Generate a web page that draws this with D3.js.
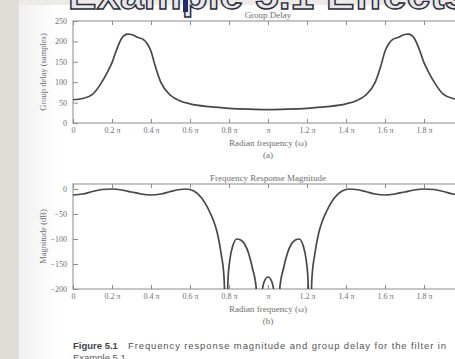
<!DOCTYPE html>
<html>
<head>
<meta charset="utf-8">
<script src="https://cdn.jsdelivr.net/npm/d3@7"></script>
<style>
  html, body { margin: 0; padding: 0; background: #fff; }
  svg { display: block; }
</style>
</head>
<body>
<svg id="chart" width="455" height="359"></svg>
<script>
// ── Data ────────────────────────────────────────────────────────────────────

// x positions are in units of pi; 2π sits just past the right edge of the scan
const xTicks = [0, 0.2, 0.4, 0.6, 0.8, 1.0, 1.2, 1.4, 1.6, 1.8, 2.0];
const xTickLabels = ["0", "0.2 π", "0.4 π", "0.6 π", "0.8 π", "π", "1.2 π", "1.4 π", "1.6 π", "1.8 π", ""];

const delayTicks = [0, 50, 100, 150, 200, 250];
const magTicks = [0, -50, -100, -150, -200];

// (a) group delay, samples
const delayFreq = [0, 0.05, 0.1, 0.15, 0.18, 0.2, 0.22, 0.25, 0.28, 0.3, 0.33, 0.36, 0.38, 0.4, 0.42, 0.45,
  0.5, 0.55, 0.6, 0.7, 0.8, 0.9, 1.0, 1.1, 1.2, 1.3, 1.4, 1.45, 1.5, 1.55, 1.58, 1.6, 1.62, 1.64, 1.67,
  1.7, 1.72, 1.75, 1.78, 1.8, 1.82, 1.85, 1.9, 1.95, 2.0];
const delayValues = [57, 60, 70, 102, 128, 148, 175, 208, 218, 217, 210, 205, 195, 176, 142, 100,
  68, 54, 47, 40, 36, 34, 33, 34, 36, 40, 47, 54, 68, 100, 142, 176, 195, 205, 210,
  217, 218, 208, 175, 148, 128, 102, 70, 60, 57];

// (b) magnitude, dB (nulls run far below the -200 floor and get clipped)
const magFreq = [0, 0.05, 0.1, 0.15, 0.2, 0.25, 0.3, 0.35, 0.4, 0.45, 0.5, 0.55, 0.58, 0.62, 0.66, 0.7,
  0.72, 0.74, 0.76, 0.775, 0.785, 0.795, 0.805, 0.82, 0.84, 0.86, 0.88, 0.9, 0.92, 0.94, 0.955,
  0.97, 0.98, 1.0, 1.02, 1.03, 1.045, 1.06, 1.08, 1.1, 1.12, 1.14, 1.16, 1.18, 1.195, 1.205, 1.215,
  1.225, 1.24, 1.26, 1.28, 1.3, 1.34, 1.38, 1.42, 1.45, 1.5, 1.55, 1.6, 1.65, 1.7, 1.75, 1.8, 1.85,
  1.9, 1.95, 2.0];
const magValues = [-12, -10, -5, -1, 0, -2, -6, -10, -12, -10, -5, -1, 0, -4, -18, -45,
  -63, -88, -130, -180, -300, -180, -140, -113, -100, -102, -110, -128, -158, -200, -300,
  -205, -186, -176, -186, -205, -300, -200, -158, -128, -110, -102, -100, -113, -140, -180, -300,
  -180, -130, -88, -63, -45, -18, -4, 0, -1, -5, -10, -12, -10, -6, -2, 0, -1,
  -5, -10, -12];

// ── Setup ───────────────────────────────────────────────────────────────────

const svg = d3.select("#chart");
const SERIF = "'Liberation Serif', 'DejaVu Serif', serif";
const SANS = "'Liberation Sans', Arial, sans-serif";
const LINE = "#474747";
const AXIS = "#8c8c8c";
const TEXT = "#6e6e6e";

// slide background: grey strip on the left, page in white
const defs = svg.append("defs");
const grad = defs.append("linearGradient").attr("id", "page-edge").attr("x1", 0).attr("x2", 1);
grad.append("stop").attr("offset", 0).attr("stop-color", "#f0f0f0");
grad.append("stop").attr("offset", 1).attr("stop-color", "#ffffff");

svg.append("rect").attr("width", 455).attr("height", 359).attr("fill", "#ecebe7");
svg.append("rect").attr("x", 0).attr("y", 0).attr("width", 19).attr("height", 359).attr("fill", "#dfddd6");
svg.append("rect").attr("x", 19).attr("y", 5).attr("width", 436).attr("height", 354).attr("fill", "#fff");
svg.append("rect").attr("x", 19).attr("y", 5).attr("width", 40).attr("height", 354).attr("fill", "url(#page-edge)");

// slide title, mostly cut off at the top
svg.append("text")
  .attr("x", 68).attr("y", 9)
  .attr("textLength", 400).attr("lengthAdjust", "spacingAndGlyphs")
  .style("font-family", SANS).style("font-weight", "bold").style("font-size", "40px")
  .attr("fill", "#e6e6ea").attr("stroke", "#2c2c3c").attr("stroke-width", 1.4)
  .text("Example 5.1 Effects");
svg.append("rect").attr("x", 183).attr("y", 0).attr("width", 5).attr("height", 12).attr("fill", "#1f2f6e");

const x = d3.scaleLinear().domain([0, 2]).range([73, 463]);

// ── Panels ──────────────────────────────────────────────────────────────────

drawPanel({
  id: "a",
  y: d3.scaleLinear().domain([0, 250]).range([123, 21]),
  yTicks: delayTicks,
  title: "Group Delay",
  yLabel: "Group delay (samples)",
  sub: "(a)",
  freq: delayFreq,
  values: delayValues,
});

drawPanel({
  id: "b",
  y: d3.scaleLinear().domain([-200, 10]).range([289, 184]),
  yTicks: magTicks,
  title: "Frequency Response Magnitude",
  yLabel: "Magnitude (dB)",
  sub: "(b)",
  freq: magFreq,
  values: magValues,
});

// caption
svg.append("text")
  .attr("x", 73).attr("y", 349)
  .style("font-family", SANS).style("font-size", "9.5px").style("font-weight", "bold")
  .attr("fill", "#444")
  .text("Figure 5.1");
svg.append("text")
  .attr("x", 128).attr("y", 349)
  .attr("textLength", 318).attr("lengthAdjust", "spacing")
  .style("font-family", SANS).style("font-size", "9.5px").attr("fill", "#555")
  .text("Frequency response magnitude and group delay for the filter in");
svg.append("text")
  .attr("x", 73).attr("y", 361)
  .style("font-family", SANS).style("font-size", "9.5px").attr("fill", "#555")
  .text("Example 5.1");

// ── Helpers ─────────────────────────────────────────────────────────────────

function drawPanel(p) {
  const [y0, y1] = p.y.range();
  const [x0, x1] = x.range();
  const g = svg.append("g");

  defs.append("clipPath").attr("id", "clip-" + p.id)
    .append("rect").attr("x", x0).attr("y", y1).attr("width", x1 - x0).attr("height", y0 - y1);

  // frame
  g.append("rect")
    .attr("x", x0).attr("y", y1).attr("width", x1 - x0).attr("height", y0 - y1)
    .attr("fill", "none").attr("stroke", AXIS).attr("stroke-width", 1);

  // inward ticks on bottom and top
  const bottom = d3.axisBottom(x).tickValues(xTicks).tickSize(-4).tickFormat((d, i) => xTickLabels[i]);
  const top = d3.axisTop(x).tickValues(xTicks).tickSize(-4).tickFormat("");
  const left = d3.axisLeft(p.y).tickValues(p.yTicks).tickSize(-5)
    .tickFormat(d => d < 0 ? "\u2212" + Math.abs(d) : d);

  const gb = g.append("g").attr("transform", `translate(0,${y0})`).call(bottom);
  const gt = g.append("g").attr("transform", `translate(0,${y1})`).call(top);
  const gl = g.append("g").attr("transform", `translate(${x0},0)`).call(left);

  for (const ax of [gb, gt, gl]) {
    ax.select(".domain").remove();
    ax.selectAll("line").attr("stroke", AXIS);
    ax.selectAll("text")
      .style("font-family", SERIF).style("font-size", "8px").attr("fill", TEXT);
  }
  gb.selectAll("text").attr("dy", "0.9em");
  gl.selectAll("text").attr("x", -6);

  // curve
  const line = d3.line()
    .x(d => x(d[0]))
    .y(d => p.y(d[1]))
    .curve(d3.curveMonotoneX);

  g.append("path")
    .datum(p.freq.map((f, i) => [f, p.values[i]]))
    .attr("clip-path", `url(#clip-${p.id})`)
    .attr("d", line)
    .attr("fill", "none")
    .attr("stroke", LINE)
    .attr("stroke-width", 1.7)
    .attr("stroke-linejoin", "round");

  // labels
  const cx = (x0 + x1) / 2;
  g.append("text")
    .attr("x", cx).attr("y", y1 - 3).attr("text-anchor", "middle")
    .style("font-family", SERIF).style("font-size", "9px").attr("fill", TEXT)
    .text(p.title);
  g.append("text")
    .attr("x", cx).attr("y", y0 + 23).attr("text-anchor", "middle")
    .style("font-family", SERIF).style("font-size", "9px").attr("fill", TEXT)
    .text("Radian frequency (ω)");
  g.append("text")
    .attr("x", cx).attr("y", y0 + 35).attr("text-anchor", "middle")
    .style("font-family", SERIF).style("font-size", "9px").attr("fill", TEXT)
    .text(p.sub);
  g.append("text")
    .attr("transform", `translate(46,${(y0 + y1) / 2}) rotate(-90)`)
    .attr("text-anchor", "middle")
    .style("font-family", SERIF).style("font-size", "8.5px").attr("fill", TEXT)
    .text(p.yLabel);
}
</script>
</body>
</html>
